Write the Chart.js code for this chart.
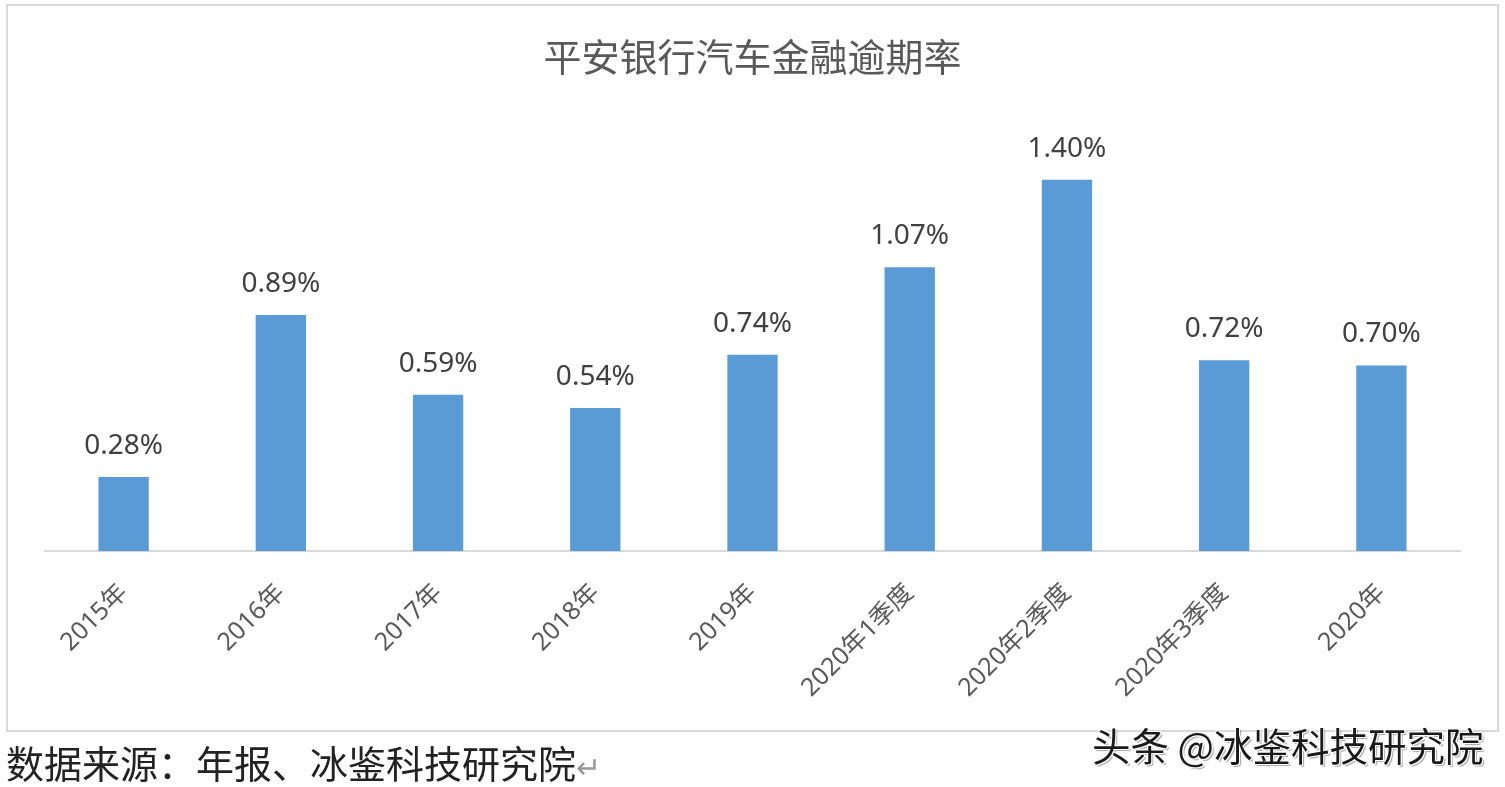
<!DOCTYPE html>
<html><head><meta charset="utf-8">
<script src="https://cdn.jsdelivr.net/npm/chart.js@4"></script>
<style>
html,body{margin:0;padding:0;background:#fff;width:1505px;height:787px;overflow:hidden;}
#frame{position:absolute;left:6px;top:4px;width:1489px;height:724px;border:2px solid #d9d9d9;}
#wrap{position:absolute;left:0;top:0;width:1505px;height:787px;}
#src{position:absolute;left:6px;top:743px;line-height:1;font-family:"Noto Sans CJK SC";font-size:38px;color:#222;}
#wm{position:absolute;left:1092px;top:725px;line-height:1;font-family:"Noto Sans CJK SC";font-size:38.5px;color:#1a1a1a;
  text-shadow:1px 1px 0 #fff,-1px -1px 0 #fff,1px -1px 0 #fff,-1px 1px 0 #fff,2px 2px 1px rgba(0,0,0,0.35);}
</style></head>
<body>
<div id="frame"></div>
<div id="wrap"><canvas id="c" width="1505" height="787"></canvas></div>
<div id="src">数据来源：年报、冰鉴科技研究院<span style="color:#999;font-size:30px">↵</span></div>
<div id="wm">头条 @冰鉴科技研究院</div>
<script>
const categories = ["2015年","2016年","2017年","2018年","2019年","2020年1季度","2020年2季度","2020年3季度","2020年"];
const overdueRate = [0.28,0.89,0.59,0.54,0.74,1.07,1.40,0.72,0.70];
const valueLabels = ["0.28%","0.89%","0.59%","0.54%","0.74%","1.07%","1.40%","0.72%","0.70%"];

const labelPlugin = {
  id:'barLabels',
  afterDatasetsDraw(chart){
    const ctx = chart.ctx;
    const meta = chart.getDatasetMeta(0);
    ctx.save();
    ctx.font = '28px "Noto Sans", "Open Sans", sans-serif';
    ctx.fillStyle = '#404040';
    ctx.textAlign = 'center';
    ctx.textBaseline = 'bottom';
    meta.data.forEach((bar,i)=>{
      ctx.fillText(valueLabels[i], bar.x, bar.y - 17);
    });
    ctx.restore();
  }
};

new Chart(document.getElementById('c'),{
  type:'bar',
  data:{labels:categories,datasets:[{data:overdueRate,backgroundColor:'#5b9bd5',categoryPercentage:1,barPercentage:0.32}]},
  options:{
    responsive:false,animation:false,devicePixelRatio:1,
    layout:{padding:{left:45,right:45,top:34,bottom:57}},
    plugins:{
      legend:{display:false},tooltip:{enabled:false},
      title:{display:true,text:'平安银行汽车金融逾期率',color:'#595959',
        font:{family:'"Noto Sans CJK SC", sans-serif',size:38,weight:'normal'},padding:{top:0,bottom:47}}
    },
    scales:{
      x:{grid:{display:false,drawTicks:false},border:{display:true,color:'#d9d9d9',width:2},
        ticks:{color:'#595959',font:{family:'"Noto Sans", "Noto Sans CJK SC", sans-serif',size:25},maxRotation:45,minRotation:45,padding:27,autoSkip:false}},
      y:{display:false,min:0,max:1.6}
    }
  },
  plugins:[labelPlugin]
});
</script>
</body></html>
